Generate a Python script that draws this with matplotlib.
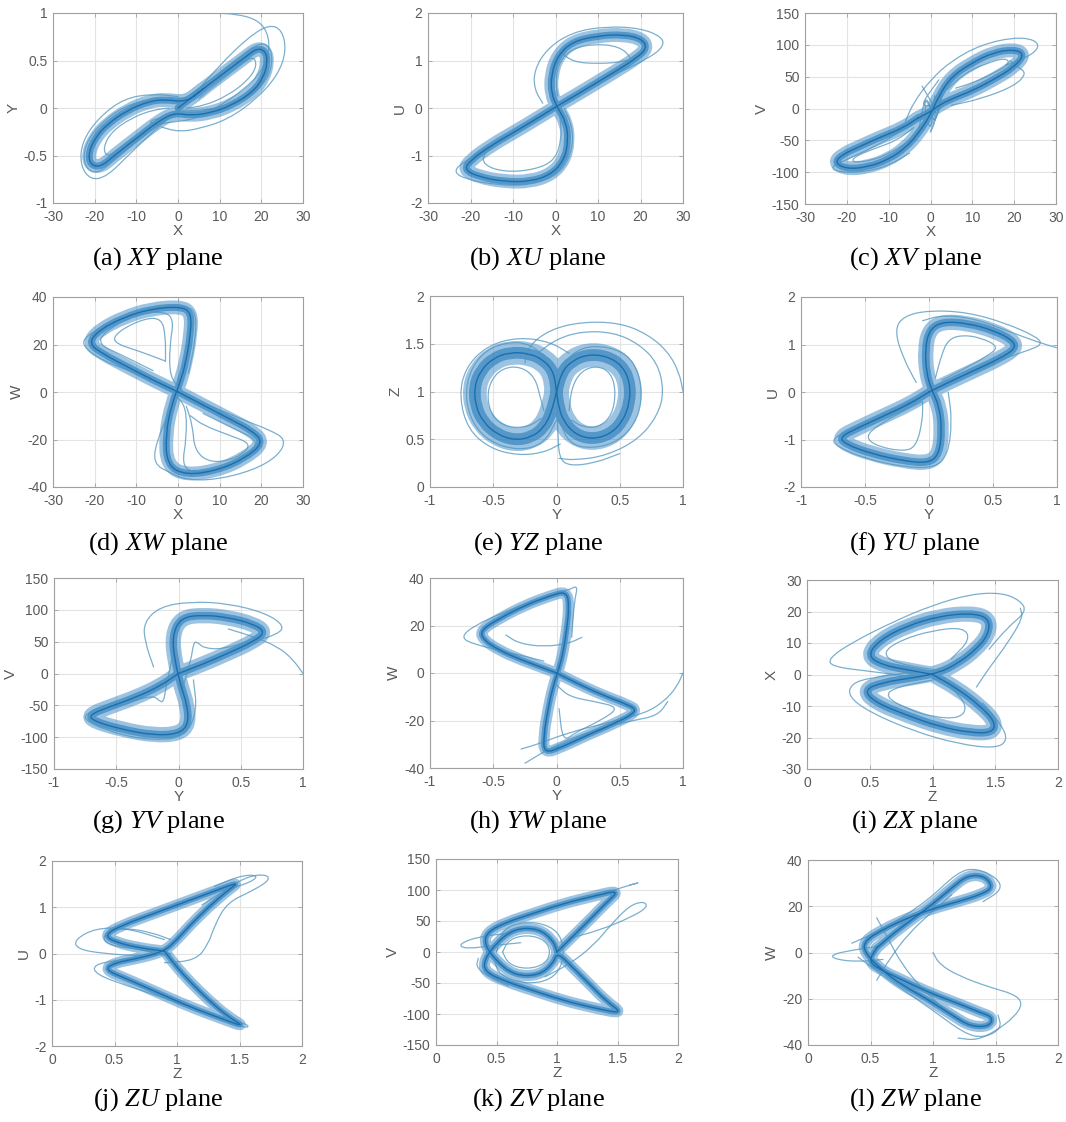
import numpy as np
import matplotlib
matplotlib.use("Agg")
import matplotlib.pyplot as plt
from matplotlib.path import Path
from matplotlib.patches import PathPatch
from matplotlib.ticker import FuncFormatter

plt.rcParams['font.family'] = ['Liberation Sans', 'DejaVu Sans']
plt.rcParams['axes.unicode_minus'] = False
plt.rcParams['mathtext.fontset'] = 'custom'
plt.rcParams['mathtext.rm'] = 'Liberation Serif'
plt.rcParams['mathtext.it'] = 'Liberation Serif:italic'

# ---- traced trajectories ----
xy_core = [(0, 0), (6, 0.2), (12, 0.4), (16, 0.53), (19, 0.63), (21, 0.6), (21.5, 0.48), (20.5, 0.32),
           (18, 0.17), (13, 0.03), (8, -0.05), (3, -0.08), (-1, -0.05), (-5, -0.15), (-10, -0.32),
           (-15, -0.49), (-18.5, -0.62), (-21, -0.6), (-21.5, -0.48), (-20, -0.32), (-17, -0.17),
           (-12, -0.02), (-7, 0.07), (-3, 0.09), (2, 0.06), (6, 0.2)]
xy_thin = [
    [(1.5, 1.0), (8, 1.0), (14, 0.99), (19, 0.93), (21.5, 0.8), (22, 0.6), (20, 0.38), (16, 0.2),
     (10, 0.02), (4, -0.12), (-2, -0.15), (-6, -0.18), (-7, -0.14), (-4, -0.1)],
    [(3, 0.1), (10, 0.45), (17, 0.75), (22, 0.88), (25, 0.82), (26, 0.6), (24, 0.35), (19, 0.1),
     (12, -0.12), (5, -0.22), (0, -0.25), (-4, -0.2)],
    [(0, 0.12), (-6, 0.15), (-13, 0.1), (-19, -0.1), (-23, -0.35), (-23.5, -0.6), (-21, -0.76),
     (-17, -0.72), (-12, -0.5), (-6, -0.25), (0, -0.02)],
    [(5, 0.1), (10, 0.28), (15, 0.45), (18, 0.55), (19, 0.45), (17, 0.3), (12, 0.13), (6, 0.02), (2, 0.0)],
    [(-4, -0.1), (-9, -0.27), (-14, -0.42), (-17, -0.52), (-18, -0.42), (-16, -0.25), (-11, -0.1),
     (-6, -0.02), (-2, 0.0)],
    [(0, 0.05), (8, 0.3), (15, 0.55), (20, 0.7), (22.5, 0.62), (22.5, 0.4), (20, 0.22), (14, 0.05),
     (6, -0.03), (0, -0.02)],
    [(0, -0.03), (-8, -0.28), (-15, -0.54), (-19.5, -0.7), (-22.5, -0.62), (-22.5, -0.4), (-19, -0.18),
     (-13, 0.02), (-6, 0.1), (0, 0.07)],
]

xu_core = [(0, 0.02), (5, 0.28), (10, 0.55), (15, 0.82), (19, 1.05), (21.5, 1.25), (20.5, 1.45), (16, 1.55),
           (10, 1.52), (4, 1.4), (0.5, 1.1), (-1, 0.7), (-1, 0.3), (0.5, 0.0), (2.5, -0.3), (3, -0.7),
           (2, -1.1), (-1, -1.4), (-6, -1.55), (-12, -1.55), (-18, -1.45), (-21.5, -1.3), (-20, -1.1),
           (-15, -0.78), (-9, -0.47), (-4, -0.2), (0, 0.02)]
xu_thin = [
    [(-3, 0.1), (-5, 0.4), (-5, 0.8), (-2, 1.25), (4, 1.6), (12, 1.72), (20, 1.68), (25, 1.5), (25.5, 1.3),
     (22, 1.05), (15, 0.75), (8, 0.45), (2, 0.15)],
    [(1, 1.2), (4, 0.97), (10, 0.93), (16, 0.97), (20, 1.1)],
    [(2, 0.0), (4, -0.4), (4, -0.9), (1, -1.4), (-6, -1.63), (-14, -1.62), (-21, -1.5), (-24, -1.35),
     (-22, -1.15), (-16, -0.85), (-8, -0.45), (-2, -0.12)],
    [(1, 0.1), (6, 0.35), (12, 0.62), (17, 0.88), (18, 1.05), (15, 1.3), (9, 1.35), (4, 1.25), (1, 1.0),
     (0, 0.6), (0.5, 0.25)],
    [(-1, -0.05), (-6, -0.32), (-12, -0.62), (-17, -0.95), (-17, -1.2), (-12, -1.35), (-5, -1.3),
     (0, -1.1), (1.5, -0.6), (1, -0.15)],
]

xv_core = [(-3, -15), (-7, -32), (-12, -45), (-17, -60), (-21, -72), (-23, -85), (-20, -95), (-15, -92),
           (-10, -80), (-6, -62), (-3, -40), (0, -10), (2, 20), (5, 50), (10, 72), (15, 88), (20, 93),
           (22.5, 85), (20, 65), (15, 45), (10, 28), (5, 15), (2, 5), (0, -5), (-3, -15)]
xv_thin = [
    [(-6, -20), (-4, 10), (0, 45), (5, 75), (12, 100), (20, 112), (25, 108), (26, 95), (23, 80), (18, 68)],
    [(5, 5), (12, 15), (20, 35), (23, 55), (21, 65), (19, 75)],
    [(-4, -20), (-8, -40), (-14, -62), (-20, -80), (-24, -92), (-22, -100), (-16, -100), (-10, -90), (-5, -70)],
    [(-3, -40), (-1, 30), (1, -35), (3, 40), (2, -20), (-2, 25), (0, -45), (1, 20)],
    [(4, 30), (8, 55), (13, 70), (18, 80), (19, 70), (15, 55), (10, 40), (6, 32)],
    [(-4, -30), (-8, -50), (-13, -62), (-18, -75), (-19, -85), (-14, -82), (-9, -68), (-5, -50)],
    [(-2, 35), (2, -10), (-1, -50), (3, 10), (-3, 0), (2, 45)],
]

xw_core = [(0, 0), (-6, 5), (-12, 10.5), (-18, 16), (-21.5, 20.5), (-19, 26), (-13, 31.5), (-6.5, 35),
           (0.5, 36), (3.2, 33.5), (3, 24), (1.8, 12), (0.5, 4), (-1.5, -5), (-3, -18), (-2.6, -31),
           (2, -35), (9.5, -33), (16, -28), (20.5, -21.5), (18, -16.5), (12, -11), (5.5, -5), (0, 0)]
xw_thin = [
    [(-2, 2), (-10, 8), (-18, 13), (-23.5, 20), (-21, 25), (-14, 31), (-5, 36), (2, 36.5), (4.5, 33),
     (4, 20), (2.5, 8)],
    [(-3, 13), (-9, 17), (-16, 21), (-14, 26), (-8, 31), (-4, 31), (-3, 24), (-3, 13)],
    [(2, -2), (8, -6), (16, -12), (22, -16), (26, -20), (24, -27), (18, -33), (9, -37), (2, -37),
     (-2, -34), (-6, -30), (-5, -20), (-2, -8)],
    [(2, -6), (3.5, -14), (4, -25), (8, -30), (14, -28), (18, -22), (12, -18), (6, -14), (3, -10)],
    [(1, 1), (-2, 6), (-2, 20), (-1, 30), (-3, 34), (-10, 33), (-18, 25), (-19, 20), (-14, 16), (-6, 9)],
    [(-1, -1), (2, -6), (2, -20), (1, -30), (3, -34), (10, -33), (18, -25), (19, -20), (14, -16), (6, -9)],
]

yz_core = [(0, 1.0), (-0.02, 1.2), (-0.1, 1.33), (-0.22, 1.4), (-0.37, 1.41), (-0.5, 1.35), (-0.6, 1.22),
           (-0.65, 1.05), (-0.64, 0.85), (-0.58, 0.68), (-0.47, 0.55), (-0.33, 0.49), (-0.2, 0.52),
           (-0.1, 0.62), (-0.04, 0.78), (0, 1.0), (0.04, 1.2), (0.12, 1.32), (0.25, 1.39), (0.4, 1.37),
           (0.52, 1.27), (0.58, 1.1), (0.58, 0.88), (0.52, 0.68), (0.42, 0.55), (0.28, 0.5), (0.15, 0.55),
           (0.06, 0.68), (0.02, 0.82), (0, 1.0)]
yz_thin = [
    [(1.0, 1.0), (0.97, 1.2), (0.88, 1.42), (0.72, 1.6), (0.5, 1.72), (0.2, 1.73), (-0.05, 1.65),
     (-0.22, 1.48), (-0.25, 1.3)],
    [(0.02, 0.3), (0.15, 0.28), (0.4, 0.33), (0.65, 0.5), (0.8, 0.75), (0.85, 1.0), (0.8, 1.3), (0.65, 1.5),
     (0.45, 1.62), (0.2, 1.63), (0.0, 1.55), (-0.15, 1.4)],
    [(0.03, 0.45), (-0.1, 0.36), (-0.3, 0.33), (-0.52, 0.4), (-0.7, 0.6), (-0.77, 0.95), (-0.72, 1.25),
     (-0.55, 1.48), (-0.3, 1.57), (-0.05, 1.52), (0.1, 1.4)],
    [(-0.1, 0.8), (-0.13, 0.95), (-0.17, 1.15), (-0.28, 1.26), (-0.42, 1.25), (-0.52, 1.12), (-0.55, 0.92),
     (-0.5, 0.72), (-0.38, 0.62), (-0.22, 0.63), (-0.12, 0.72)],
    [(0.1, 0.8), (0.12, 1.05), (0.2, 1.22), (0.32, 1.27), (0.43, 1.2), (0.47, 1.0), (0.44, 0.75),
     (0.33, 0.62), (0.2, 0.63), (0.12, 0.7)],
    [(0, 1.0), (0.01, 0.6), (0.02, 0.3), (0.1, 0.22), (0.3, 0.25), (0.5, 0.35)],
    [(0.0, 0.9), (-0.05, 1.3), (-0.2, 1.5), (-0.4, 1.52), (-0.6, 1.4), (-0.72, 1.1), (-0.7, 0.75),
     (-0.55, 0.48), (-0.3, 0.38), (-0.1, 0.45), (0.0, 0.7)],
    [(0.0, 0.9), (0.05, 1.3), (0.2, 1.47), (0.42, 1.47), (0.6, 1.35), (0.68, 1.05), (0.65, 0.72),
     (0.5, 0.48), (0.28, 0.4), (0.1, 0.45), (0.02, 0.7)],
]

yu_core = [(0, 0), (0.15, 0.2), (0.35, 0.45), (0.55, 0.7), (0.68, 0.92), (0.65, 1.1), (0.5, 1.3), (0.3, 1.45),
           (0.1, 1.48), (0, 1.3), (-0.03, 0.9), (-0.02, 0.4), (0.02, 0.05), (0.08, -0.3), (0.1, -0.8),
           (0.08, -1.3), (0, -1.5), (-0.2, -1.45), (-0.45, -1.3), (-0.65, -1.1), (-0.7, -0.95),
           (-0.55, -0.75), (-0.35, -0.5), (-0.15, -0.25), (0, 0)]
yu_thin = [
    [(-0.1, 0.2), (-0.2, 0.7), (-0.27, 1.3), (-0.2, 1.6), (0.0, 1.72), (0.3, 1.68), (0.6, 1.45),
     (0.85, 1.15), (0.88, 1.0), (0.8, 0.9), (0.6, 0.72), (0.3, 0.4)],
    [(1.0, 0.93), (0.85, 1.05), (0.6, 1.3), (0.35, 1.55), (0.1, 1.62), (-0.05, 1.5)],
    [(0.05, 0.3), (0.1, 0.8), (0.15, 1.1), (0.25, 1.2), (0.4, 1.15), (0.55, 0.95), (0.45, 0.75),
     (0.25, 0.45), (0.1, 0.25)],
    [(0.15, 0.0), (0.18, -0.6), (0.15, -1.3), (0.05, -1.6), (-0.2, -1.58), (-0.5, -1.4), (-0.72, -1.15),
     (-0.76, -0.98), (-0.6, -0.78), (-0.35, -0.48), (-0.1, -0.15)],
    [(-0.05, -0.2), (-0.05, -0.6), (-0.1, -1.15), (-0.2, -1.25), (-0.4, -1.15), (-0.5, -0.95),
     (-0.4, -0.7), (-0.2, -0.4), (-0.05, -0.2)],
]

yv_core = [(0, 0), (0.2, 15), (0.4, 32), (0.6, 50), (0.7, 65), (0.6, 78), (0.4, 88), (0.2, 92), (0.02, 88),
           (-0.05, 60), (-0.03, 20), (0.02, -20), (0.07, -50), (0.08, -80), (0, -95), (-0.2, -97),
           (-0.45, -88), (-0.68, -75), (-0.72, -65), (-0.55, -52), (-0.35, -38), (-0.15, -20), (0, 0)]
yv_thin = [
    [(-0.2, 10), (-0.27, 50), (-0.28, 80), (-0.15, 105), (0.1, 113), (0.4, 110), (0.7, 95), (0.85, 75),
     (0.8, 62), (0.6, 50)],
    [(1.0, 0), (0.92, 22), (0.8, 42), (0.6, 58), (0.4, 70)],
    [(0.02, -30), (0.1, 20), (0.12, 48), (0.15, 50), (0.2, 40), (0.35, 38), (0.55, 50)],
    [(0.12, -10), (0.15, -60), (0.05, -100), (-0.2, -105), (-0.5, -95), (-0.78, -72), (-0.7, -58),
     (-0.5, -45)],
    [(-0.05, 25), (-0.1, -20), (-0.12, -46), (-0.16, -42), (-0.2, -35), (-0.35, -42), (-0.55, -55)],
]

yw_core = [(0, 0), (-0.15, 3), (-0.3, 6), (-0.45, 9.5), (-0.58, 14), (-0.6, 18), (-0.45, 23), (-0.25, 28.5),
           (-0.05, 32.5), (0.08, 34.5), (0.1, 28), (0.08, 18), (0.05, 8), (0.02, 2), (-0.03, -6),
           (-0.07, -16), (-0.1, -26), (-0.1, -34), (0.05, -31), (0.25, -26), (0.45, -21.5), (0.65, -16),
           (0.55, -13), (0.35, -9), (0.15, -4), (0, 0)]
yw_thin = [
    [(-0.1, 5), (-0.4, 9), (-0.65, 12), (-0.76, 15), (-0.65, 20), (-0.4, 26), (-0.15, 31), (0.1, 35),
     (0.17, 37), (0.14, 30), (0.12, 15)],
    [(-0.4, 16), (-0.3, 12.5), (-0.1, 11), (0.1, 12.5), (0.2, 15)],
    [(1.0, 0), (0.95, -6), (0.85, -12), (0.7, -17), (0.4, -21), (0.1, -25), (-0.15, -30), (-0.28, -32)],
    [(0.88, -12), (0.8, -18), (0.6, -20), (0.3, -24), (0, -30), (-0.25, -38)],
    [(0.0, -5), (0.1, -10), (0.3, -12), (0.5, -14.5), (0.35, -20), (0.15, -25), (0.05, -29), (0.02, -15)],
]

zx_core = [(1.0, 0), (0.8, 1.5), (0.6, 3), (0.48, 6), (0.58, 11), (0.8, 15.5), (1.05, 18.5), (1.3, 19.5),
           (1.45, 18), (1.45, 13), (1.35, 8), (1.2, 3.5), (1.05, 0.5), (0.85, -1), (0.6, -2.5), (0.45, -5),
           (0.55, -9), (0.8, -13), (1.05, -16.5), (1.3, -18.5), (1.48, -18.5), (1.5, -15), (1.38, -10),
           (1.2, -4.5), (1.0, 0)]
zx_thin = [
    [(0.9, -1), (0.5, 1), (0.2, 2.5), (0.17, 5), (0.35, 10), (0.7, 17), (1.0, 22), (1.3, 25.5), (1.55, 26),
     (1.7, 23.5), (1.75, 20), (1.6, 15), (1.45, 8)],
    [(1.35, -4), (1.45, 2), (1.6, 10), (1.72, 18), (1.7, 21)],
    [(0.9, 1), (0.5, -1), (0.35, -3), (0.33, -7), (0.5, -12), (0.85, -18), (1.2, -22), (1.5, -23.5),
     (1.6, -21), (1.55, -16), (1.4, -9)],
    [(1.1, 1), (0.7, 3.5), (0.6, 7), (0.75, 11), (1.0, 14), (1.25, 15), (1.3, 11), (1.15, 5)],
    [(1.1, -1), (0.7, -4), (0.62, -7), (0.8, -11), (1.0, -13.5), (1.22, -14), (1.28, -10), (1.15, -4)],
]

zu_core = [(0.9, 0.05), (0.7, 0.12), (0.5, 0.25), (0.42, 0.4), (0.55, 0.6), (0.8, 0.85), (1.05, 1.1),
           (1.3, 1.35), (1.5, 1.55), (1.4, 1.35), (1.25, 1.0), (1.1, 0.6), (1.0, 0.3), (0.9, 0.05),
           (0.7, -0.1), (0.5, -0.2), (0.42, -0.35), (0.6, -0.55), (0.85, -0.85), (1.1, -1.15), (1.35, -1.4),
           (1.55, -1.6), (1.4, -1.35), (1.25, -1.0), (1.1, -0.6), (1.0, -0.3), (0.9, 0.05)]
zu_thin = [
    [(0.9, 0.3), (0.6, 0.55), (0.35, 0.55), (0.18, 0.3), (0.2, 0.1), (0.4, 0.0), (0.7, -0.05), (0.95, 0.0)],
    [(1.2, 1.05), (1.4, 1.4), (1.55, 1.65), (1.7, 1.72), (1.75, 1.6), (1.6, 1.35), (1.4, 1.1), (1.3, 0.6),
     (1.25, 0.2), (1.15, -0.15), (0.9, -0.2)],
    [(1.3, 1.45), (1.5, 1.68), (1.65, 1.7), (1.6, 1.55), (1.4, 1.38)],
    [(0.9, 0), (0.5, -0.15), (0.33, -0.25), (0.35, -0.45), (0.6, -0.7), (1.0, -1.05), (1.3, -1.35),
     (1.55, -1.62), (1.58, -1.55), (1.45, -1.45)],
    [(0.9, -0.05), (0.7, 0.1), (0.5, 0.15), (0.4, 0.3), (0.45, 0.5), (0.6, 0.55), (0.8, 0.45), (0.95, 0.3)],
]

zv_core = [(1.0, 0), (1.13, 25), (1.27, 52), (1.4, 78), (1.52, 100), (1.3, 90), (1.05, 78), (0.8, 62),
           (0.58, 48), (0.42, 32), (0.4, 12), (0.5, -15), (0.65, -38), (0.85, -38), (0.97, -18), (1.0, 0),
           (1.13, -25), (1.27, -52), (1.4, -78), (1.55, -100), (1.3, -90), (1.05, -78), (0.8, -62),
           (0.58, -48), (0.4, -32), (0.4, -12), (0.5, 15), (0.65, 38), (0.85, 38), (0.97, 18), (1.0, 0)]
zv_thin = [
    [(1.4, 95), (1.55, 105), (1.7, 113), (1.6, 108)],
    [(0.9, -40), (1.1, -20), (1.3, 10), (1.45, 45), (1.6, 75), (1.72, 82), (1.75, 72), (1.6, 55),
     (1.35, 35), (1.1, 22)],
    [(0.6, 30), (0.35, 25), (0.18, 12), (0.25, 5), (0.45, 10), (0.7, 15)],
    [(0.35, -10), (0.33, -25), (0.45, -42), (0.6, -55)],
    [(0.55, 0), (0.6, 20), (0.75, 28), (0.9, 20), (0.95, 0), (0.9, -20), (0.75, -28), (0.6, -20), (0.55, 0)],
    [(0.5, 0), (0.55, 38), (0.75, 50), (0.95, 42), (1.05, 20), (1.05, -20), (0.95, -45), (0.75, -52),
     (0.52, -38), (0.48, -10)],
]

zw_core = [(0.55, 2), (0.7, 9), (0.85, 15), (1.0, 21), (1.15, 28), (1.28, 33.5), (1.42, 33), (1.48, 28),
           (1.38, 25), (1.2, 22), (1.0, 19), (0.8, 15), (0.6, 10), (0.45, 5), (0.45, 0), (0.6, -8),
           (0.75, -14), (0.95, -20), (1.15, -27), (1.3, -32), (1.45, -32), (1.48, -28), (1.38, -26),
           (1.2, -22), (1.0, -18), (0.8, -13), (0.6, -8), (0.48, -4), (0.55, 2)]
zw_thin = [
    [(1.0, 0), (1.05, -5), (1.2, -10), (1.45, -15), (1.65, -18), (1.72, -22), (1.65, -28), (1.5, -34),
     (1.35, -38), (1.2, -37)],
    [(0.6, 3), (0.35, 1), (0.18, -1), (0.22, -3), (0.4, -4), (0.6, -3)],
    [(0.35, 4), (0.6, 10), (0.95, 22), (1.2, 35), (1.35, 36.5), (1.52, 32), (1.55, 27), (1.4, 22)],
    [(0.4, -2), (0.65, -12), (1.0, -25), (1.25, -35), (1.4, -37), (1.55, -33), (1.52, -27)],
    [(0.55, 15), (0.65, 5), (0.75, -5), (0.9, -15), (1.1, -25)],
    [(0.55, -12), (0.65, -3), (0.8, 8), (1.0, 18), (1.15, 25)],
]

# letter, x name, y name, core, thin strands, x ticks, y ticks
panels = [
    ('a', 'X', 'Y', xy_core, xy_thin, [-30, -20, -10, 0, 10, 20, 30], [-1, -0.5, 0, 0.5, 1]),
    ('b', 'X', 'U', xu_core, xu_thin, [-30, -20, -10, 0, 10, 20, 30], [-2, -1, 0, 1, 2]),
    ('c', 'X', 'V', xv_core, xv_thin, [-30, -20, -10, 0, 10, 20, 30], [-150, -100, -50, 0, 50, 100, 150]),
    ('d', 'X', 'W', xw_core, xw_thin, [-30, -20, -10, 0, 10, 20, 30], [-40, -20, 0, 20, 40]),
    ('e', 'Y', 'Z', yz_core, yz_thin, [-1, -0.5, 0, 0.5, 1], [0, 0.5, 1, 1.5, 2]),
    ('f', 'Y', 'U', yu_core, yu_thin, [-1, -0.5, 0, 0.5, 1], [-2, -1, 0, 1, 2]),
    ('g', 'Y', 'V', yv_core, yv_thin, [-1, -0.5, 0, 0.5, 1], [-150, -100, -50, 0, 50, 100, 150]),
    ('h', 'Y', 'W', yw_core, yw_thin, [-1, -0.5, 0, 0.5, 1], [-40, -20, 0, 20, 40]),
    ('i', 'Z', 'X', zx_core, zx_thin, [0, 0.5, 1, 1.5, 2], [-30, -20, -10, 0, 10, 20, 30]),
    ('j', 'Z', 'U', zu_core, zu_thin, [0, 0.5, 1, 1.5, 2], [-2, -1, 0, 1, 2]),
    ('k', 'Z', 'V', zv_core, zv_thin, [0, 0.5, 1, 1.5, 2], [-150, -100, -50, 0, 50, 100, 150]),
    ('l', 'Z', 'W', zw_core, zw_thin, [0, 0.5, 1, 1.5, 2], [-40, -20, 0, 20, 40]),
]
band_w = [10, 10, 10, 10, 17, 11, 11, 8, 11, 8, 8, 8]

# axes boxes in pixels: left, top, right, bottom
boxes = [(53, 13, 303, 203), (428, 13, 683, 203), (805, 13, 1056, 204),
         (53, 297, 303, 487), (430, 296, 683, 487), (801, 297, 1057, 487),
         (54, 578, 303, 769), (430, 578, 683, 768), (807, 580, 1058, 769),
         (52, 861, 302, 1046), (436, 859, 678, 1045), (808, 860, 1058, 1045)]
cap_x = [158, 538, 915]
cap_y = [259, 544, 822, 1100]

W, H = 1066, 1122


def curve(pts):
    # quadratic bezier through the traced points, drawn by matplotlib
    pts = np.asarray(pts, float)
    mids = (pts[:-1] + pts[1:]) / 2
    verts = [pts[0], mids[0]]
    codes = [Path.MOVETO, Path.LINETO]
    for k in range(1, len(pts) - 1):
        verts += [pts[k], mids[k]]
        codes += [Path.CURVE3, Path.CURVE3]
    verts.append(pts[-1])
    codes.append(Path.LINETO)
    return Path(verts, codes)


def stroke(ax, pts, **kw):
    ax.add_patch(PathPatch(curve(pts), fill=False, capstyle='round', joinstyle='round', **kw))


fig = plt.figure(figsize=(W / 100, H / 100), dpi=100)
fmt = FuncFormatter(lambda v, p: '%g' % v)

for i, (let, xn, yn, core, thin, xt, yt) in enumerate(panels):
    l, t, r, b = boxes[i]
    ax = fig.add_axes([l / W, 1 - b / H, (r - l) / W, (b - t) / H])
    bw = band_w[i]
    stroke(ax, core, ec='#3a8ac6', lw=bw, alpha=0.5)
    stroke(ax, core, ec='#1b73b5', lw=bw * 0.5, alpha=0.55)
    for s in thin:
        stroke(ax, s, ec='#4f95bf', lw=0.9, alpha=0.75)
    stroke(ax, core, ec='#0e68ab', lw=1.0, alpha=0.85)
    ax.set_xlim(xt[0], xt[-1])
    ax.set_ylim(yt[0], yt[-1])
    ax.set_xticks(xt)
    ax.set_yticks(yt)
    ax.xaxis.set_major_formatter(fmt)
    ax.yaxis.set_major_formatter(fmt)
    ax.grid(True, color='#e3e3e3', lw=0.8)
    ax.set_axisbelow(True)
    for sp in ax.spines.values():
        sp.set_color('#a0a0a0')
        sp.set_linewidth(0.8)
    ax.tick_params(direction='in', length=3, width=0.6, color='#a0a0a0', labelcolor='#5a5a5a',
                   labelsize=10, top=True, right=True)
    ax.tick_params(axis='x', pad=5)
    ax.tick_params(axis='y', pad=4)
    ax.set_xlabel(xn, fontsize=11, color='#5a5a5a', labelpad=0)
    ax.set_ylabel(yn, fontsize=11, color='#5a5a5a', labelpad=2)

    fig.text(cap_x[i % 3] / W, 1 - cap_y[i // 3] / H,
             '(%s) $\\mathit{%s}$ plane' % (let, xn + yn),
             ha='center', va='center', fontsize=19, family='Liberation Serif')

fig.savefig('out.png', dpi=100)
